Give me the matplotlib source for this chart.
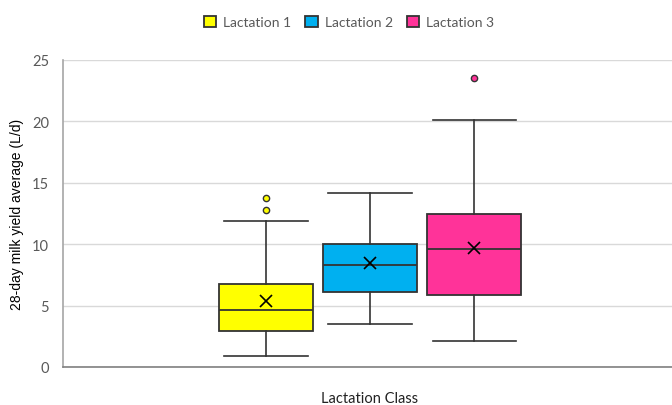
import matplotlib.pyplot as plt

# values (L/d)
labels = ['Lactation 1', 'Lactation 2', 'Lactation 3']
colors = ['#FFFF00', '#00B0F0', '#FF3399']
whislo = [0.92, 3.47, 2.14]
q1 = [2.96, 6.10, 5.86]
med = [4.61, 8.30, 9.60]
q3 = [6.78, 10.00, 12.46]
whishi = [11.89, 14.20, 20.10]
means = [5.40, 8.44, 9.66]
fliers = [[12.76, 13.80], [], [23.50]]


def main():
    fig = plt.figure(figsize=(6.72, 4.06), dpi=100)
    ax = fig.add_axes([63 / 672, 38 / 406, 614 / 672, 307 / 406])

    stats = []
    for i in range(len(labels)):
        stats.append({'label': labels[i], 'whislo': whislo[i], 'q1': q1[i],
                      'med': med[i], 'q3': q3[i], 'whishi': whishi[i],
                      'mean': means[i], 'fliers': fliers[i]})

    edge = '#333333'
    positions = [1, 2, 3]
    bp = ax.bxp(stats, positions=positions, widths=0.91, patch_artist=True,
                showmeans=True, showfliers=True,
                boxprops=dict(edgecolor=edge, linewidth=1.3),
                medianprops=dict(color=edge, linewidth=1.3),
                whiskerprops=dict(color=edge, linewidth=1.2),
                capprops=dict(color=edge, linewidth=1.2),
                meanprops=dict(marker='x', markeredgecolor='black',
                               markersize=8, markeredgewidth=1.2))
    for i, box in enumerate(bp['boxes']):
        box.set_facecolor(colors[i])
    for i, fl in enumerate(bp['fliers']):
        fl.set(marker='o', markerfacecolor=colors[i], markeredgecolor=edge,
               markersize=4.5, markeredgewidth=1.0)
    for cap in bp['caps']:
        x = cap.get_xdata()
        c = (x[0] + x[1]) / 2
        cap.set_xdata([c - 0.4, c + 0.4])

    ax.set_xlim(2 - 2.952, 2 + 2.95)
    ax.set_ylim(0, 25)
    ax.set_yticks([0, 5, 10, 15, 20, 25])
    ax.set_xticks([])
    ax.tick_params(axis='y', length=0, pad=10, labelsize=10.5,
                   labelcolor='#595959')
    for t in ax.get_yticklabels():
        t.set_fontfamily('Lato')
    ax.grid(axis='y', color='#D9D9D9', linewidth=1)
    ax.set_axisbelow(True)
    for s in ['top', 'right']:
        ax.spines[s].set_visible(False)
    ax.spines['left'].set_color('#A6A6A6')
    ax.spines['left'].set_linewidth(1.2)
    ax.spines['bottom'].set_color('#808080')
    ax.spines['bottom'].set_linewidth(1.2)

    ax.set_ylabel('28-day milk yield average (L/d)', fontsize=10,
                  family='Liberation Sans')
    ax.yaxis.set_label_coords(-(63 - 24) / 614, 0.5)
    ax.set_xlabel('Lactation Class', fontsize=10.5, family='Lato',
                  color='#222222', va='center')
    ax.xaxis.set_label_coords((370 - 63) / 614, -(399 - 368) / 307)

    fig.legend(bp['boxes'], labels, loc='center', ncol=3, frameon=False,
               bbox_to_anchor=(349 / 672, 1 - 23 / 406),
               prop={'family': 'Lato', 'size': 10}, labelcolor='#595959',
               handlelength=0.9, handleheight=0.9, handletextpad=0.5,
               columnspacing=1.0)

    fig.savefig('out.png', dpi=100)


if __name__ == '__main__':
    main()
